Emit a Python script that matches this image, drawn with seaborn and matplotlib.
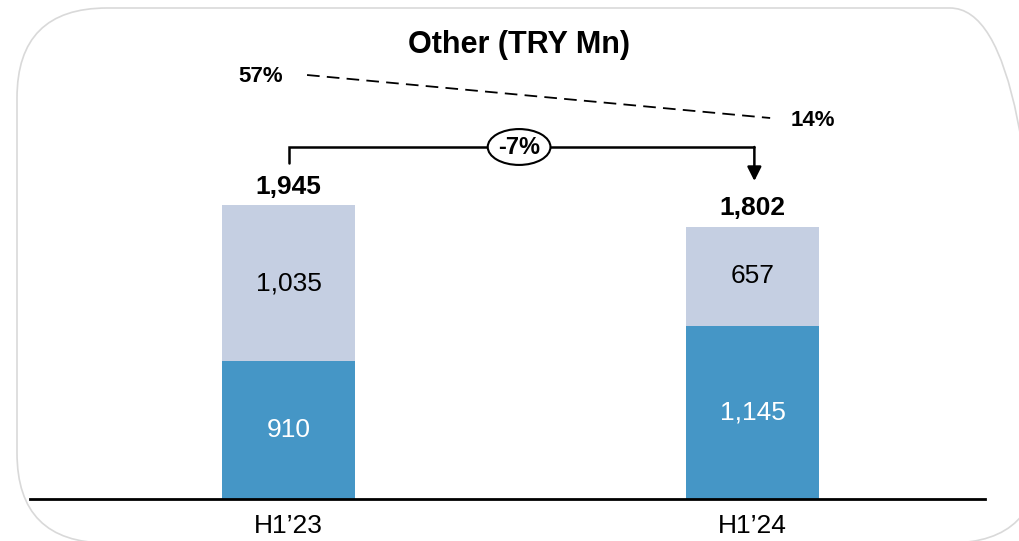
import matplotlib
matplotlib.use("Agg")
import matplotlib.pyplot as plt
from matplotlib.patches import FancyBboxPatch
import seaborn as sns
import pandas as pd

categories = ["H1\u201923", "H1\u201924"]
bottom_vals = [910, 1145]
top_vals = [1035, 657]
totals = [1945, 1802]
share_labels = ["57%", "14%"]
change_label = "-7%"
title = "Other (TRY Mn)"

BLUE = "#4596C6"
LIGHT = "#C5CFE2"

sns.set_theme(style="white")
plt.rcParams["font.family"] = ["Liberation Sans", "DejaVu Sans"]
plt.rcParams["text.color"] = "black"

fig = plt.figure(figsize=(10.2, 5.41), dpi=100)
W, H = 1020, 541
# axes: x 30..985 px, baseline at y=499 px, top at y=10 px
ax = fig.add_axes([30 / W, (H - 499) / H, 955 / W, 489 / H])

df = pd.DataFrame({"cat": categories, "bottom": bottom_vals, "top": top_vals, "total": totals})
sns.barplot(data=df, x="cat", y="total", color=LIGHT, width=0.287, saturation=1, ax=ax, edgecolor="none")
sns.barplot(data=df, x="cat", y="bottom", color=BLUE, width=0.287, saturation=1, ax=ax, edgecolor="none")

px = 0.1512  # px per unit
ymax = 489 / px
ax.set_ylim(0, ymax)
ax.set_xlim(-0.557, 1.501)
ax.set_xlabel("")
ax.set_ylabel("")
ax.set_yticks([])
for s in ["top", "right", "left"]:
    ax.spines[s].set_visible(False)
ax.spines["bottom"].set_color("black")
ax.spines["bottom"].set_linewidth(2)
ax.tick_params(axis="x", length=0, pad=11, labelsize=19, colors="black")
ax.set_facecolor("none")

def py(ypix):
    return (499 - ypix) / px

for i in range(2):
    ax.text(i, bottom_vals[i] / 2, f"{bottom_vals[i]:,}", ha="center", va="center",
            fontsize=19, color="white")
    ax.text(i, bottom_vals[i] + top_vals[i] / 2, f"{top_vals[i]:,}", ha="center", va="center",
            fontsize=19, color="black")
    ax.annotate(f"{totals[i]:,}", (i, totals[i]), xytext=(0, 13), textcoords="offset points",
                ha="center", va="center", fontsize=19, fontweight="bold", color="black")

# share labels and dashed line
ax.text(-0.061, py(77), share_labels[0], ha="center", va="center", fontsize=16, fontweight="bold")
ax.text(1.130, py(120), share_labels[1], ha="center", va="center", fontsize=16, fontweight="bold")
ax.plot([0.040, 1.038], [py(75), py(118)], color="black", lw=1.3, ls=(0, (7, 4)))

# bracket with arrow
yb = py(147)
ax.plot([0.001, 0.001, 1.004], [py(163), yb, yb], color="black", lw=1.8, solid_joinstyle="miter")
ax.annotate("", xy=(1.004, py(181)), xytext=(1.004, yb),
            arrowprops=dict(arrowstyle="-|>,head_width=0.35,head_length=0.7", color="black", lw=1.8,
                            shrinkA=0, shrinkB=0))
ax.text(0.497, yb, change_label, ha="center", va="center", fontsize=17, fontweight="bold",
        bbox=dict(boxstyle="ellipse,pad=0.05", fc="white", ec="black", lw=1.5))

fig.text(519 / W, 1 - 45 / H, title, ha="center", va="center", fontsize=22, fontweight="bold",
         color="black")

# rounded frame (in inches so corners are circular)
frame = FancyBboxPatch((0.17, -0.02), 10.23, 5.35,
                       boxstyle="round,pad=0,rounding_size=0.9", transform=fig.dpi_scale_trans,
                       fc="none", ec="#D9D9D9", lw=1.2)
fig.patches.append(frame)

fig.savefig("out.png", dpi=100)
